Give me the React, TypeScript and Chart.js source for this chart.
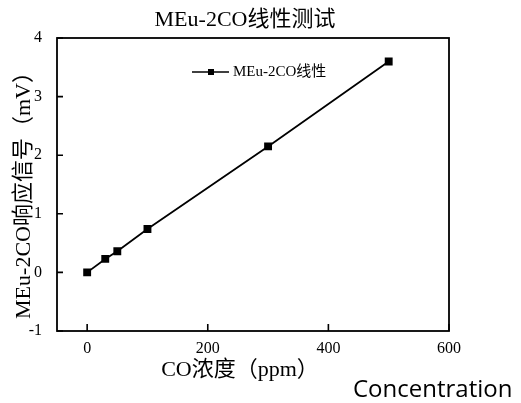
import { useEffect, useRef } from "react";
import { Chart, registerables } from "chart.js";

Chart.register(...registerables);

const concentrations = [0, 30, 50, 100, 300, 500];
const responses = [0, 0.23, 0.36, 0.74, 2.15, 3.6];
const xTicks = [0, 200, 400, 600];
const yTicks = [-1, 0, 1, 2, 3, 4];
const chartTitle = "MEu-2CO线性测试";
const seriesLabel = "MEu-2CO线性";
const xTitle = "CO浓度（ppm）";
const yTitle = "MEu-2CO响应信号（mV）";
const footnote = "Concentration";

const SERIF = '"Liberation Serif", "Noto Sans CJK SC", serif';

const decorPlugin = {
  id: "decor",
  afterDraw(chart: any) {
    const { ctx, chartArea } = chart;
    const { left, right, top, bottom } = chartArea;
    const xs = chart.scales.x;
    const ys = chart.scales.y;
    ctx.save();
    ctx.strokeStyle = "#000";
    ctx.lineWidth = 1.8;
    ctx.strokeRect(left, top, right - left, bottom - top);
    // inward ticks
    ctx.lineWidth = 1.6;
    ctx.beginPath();
    for (const v of xTicks) {
      const px = xs.getPixelForValue(v);
      ctx.moveTo(px, bottom);
      ctx.lineTo(px, bottom - 7);
    }
    for (const v of yTicks) {
      const py = ys.getPixelForValue(v);
      ctx.moveTo(left, py);
      ctx.lineTo(left + 6, py);
    }
    ctx.stroke();

    ctx.fillStyle = "#000";
    ctx.textAlign = "center";
    ctx.textBaseline = "middle";
    // title
    ctx.font = `22px ${SERIF}`;
    ctx.fillText(chartTitle, 245, 20);
    // x title
    ctx.font = `22px ${SERIF}`;
    ctx.fillText(xTitle, 240, 370);
    // y title
    ctx.save();
    ctx.translate(24, 190);
    ctx.rotate(-Math.PI / 2);
    ctx.font = `22px ${SERIF}`;
    ctx.fillText(yTitle, 0, 0);
    ctx.restore();

    // legend
    const ly = 72;
    ctx.lineWidth = 1.6;
    ctx.beginPath();
    ctx.moveTo(192, ly);
    ctx.lineTo(229, ly);
    ctx.stroke();
    ctx.fillRect(208, ly - 3, 6, 6);
    ctx.font = `15px ${SERIF}`;
    ctx.textAlign = "left";
    ctx.fillText(chart.data.datasets[0].label, 233, ly);

    // footnote
    ctx.font = '24px "Open Sans", sans-serif';
    ctx.textBaseline = "alphabetic";
    ctx.fillText(footnote, 353, 397);
    ctx.restore();
  },
};

export default function App() {
  const ref = useRef<HTMLCanvasElement | null>(null);
  useEffect(() => {
    if (!ref.current) return;
    const chart = new Chart(ref.current, {
      type: "line",
      data: {
        datasets: [
          {
            label: seriesLabel,
            data: concentrations.map((c, i) => ({ x: c, y: responses[i] })),
            borderColor: "#000",
            backgroundColor: "#000",
            borderWidth: 1.8,
            pointStyle: "rect",
            pointRadius: 4.3,
            pointHoverRadius: 4.3,
            tension: 0,
          },
        ],
      },
      options: {
        responsive: false,
        animation: false,
        events: [],
        layout: { padding: { left: 0, top: 38, right: 72, bottom: 0 } },
        plugins: { legend: { display: false }, tooltip: { enabled: false }, title: { display: false } },
        scales: {
          x: {
            type: "linear",
            min: -50,
            max: 600,
            afterBuildTicks: (s: any) => {
              s.ticks = xTicks.map((v) => ({ value: v }));
            },
            afterFit: (s: any) => {
              s.height = 72;
            },
            grid: { display: false },
            border: { display: false },
            ticks: { color: "#000", font: { family: SERIF, size: 16 }, padding: 0, maxRotation: 0 },
          },
          y: {
            type: "linear",
            min: -1,
            max: 4,
            afterBuildTicks: (s: any) => {
              s.ticks = yTicks.map((v) => ({ value: v }));
            },
            afterFit: (s: any) => {
              s.width = 57;
            },
            grid: { display: false },
            border: { display: false },
            ticks: { color: "#000", font: { family: SERIF, size: 16 }, padding: 7 },
          },
        },
      },
      plugins: [decorPlugin],
    });
    return () => chart.destroy();
  }, []);
  return (
    <div style={{ position: "absolute", left: 0, top: 0, width: 521, height: 403, background: "#fff" }}>
      <canvas ref={ref} width={521} height={403} />
    </div>
  );
}
